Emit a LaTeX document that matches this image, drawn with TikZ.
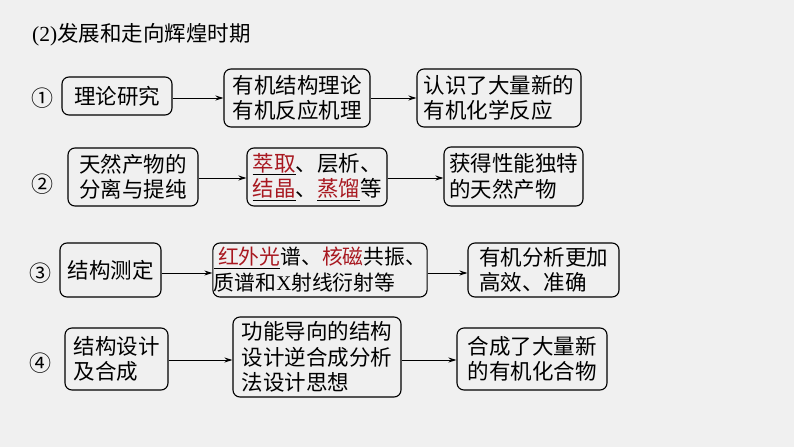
\documentclass[tikz,border=0pt]{standalone}
\usepackage{fontspec}
\setmainfont{Noto Sans CJK SC}
\newfontfamily\lat{Liberation Serif}
\usetikzlibrary{arrows.meta}
\definecolor{bg}{RGB}{240,240,240}
\definecolor{hl}{RGB}{168,24,32}
\newcommand{\ul}[1]{\underline{\textcolor{hl}{#1}}}
\tikzset{
  box/.style={draw=black, line width=1.1pt, rounded corners=7pt, align=left,
    inner sep=2pt, font=\fontsize{21.5}{25.5}\selectfont},
  arr/.style={line width=1pt, -{Stealth[length=8pt,width=5pt]}},
  num/.style={font=\fontsize{22}{24}\selectfont},
}
\begin{document}
\begin{tikzpicture}[x=1pt,y=-1pt]
\fill[bg] (0,0) rectangle (794,447);
\useasboundingbox (0,0) rectangle (794,447);

\node[anchor=west, inner sep=0pt, font=\fontsize{21.5}{24}\selectfont] (title) at (32,35) {{\lat(2)}发展和走向辉煌时期};

% row 1
\node[num] (n1) at (42,98) {①};
\node[box, minimum width=110pt, minimum height=38pt] (A1) at (117,96) {理论研究};
\node[box, minimum width=146pt, minimum height=58pt] (B1) at (297,98) {有机结构理论\\有机反应机理};
\node[box, minimum width=164pt, minimum height=58pt] (C1) at (499,98) {认识了大量新的\\有机化学反应};
\draw[arr] (A1.east |- 0,98) -- (B1.west |- 0,98);
\draw[arr] (B1.east |- 0,98) -- (C1.west |- 0,98);

% row 2
\node[num] (n2) at (42,184) {②};
\node[box, minimum width=130pt, minimum height=58pt] (A2) at (133,177) {天然产物的\\分离与提纯};
\node[box, minimum width=140pt, minimum height=58pt] (B2) at (317,177) {\ul{萃取}、层析、\\\ul{结晶}、\ul{蒸馏}等};
\node[box, minimum width=139pt, minimum height=59pt] (C2) at (513.5,176.5) {获得性能独特\\的天然产物};
\draw[arr] (A2.east |- 0,178) -- (B2.west |- 0,178);
\draw[arr] (B2.east |- 0,178) -- (C2.west |- 0,178);

% row 3
\node[num] (n3) at (40,273) {③};
\node[box, minimum width=101pt, minimum height=54pt] (A3) at (110.5,270) {结构测定};
\node[box, minimum width=214pt, minimum height=54pt, inner sep=1pt, font=\fontsize{20.8}{26}\selectfont] (B3) at (320,270) {\underline{\hspace{0.2em}\textcolor{hl}{红外光}}谱、\textcolor{hl}{核磁}共振、\\质谱和{\lat X}射线衍射等};
\node[box, minimum width=151pt, minimum height=54pt] (C3) at (543.5,270) {有机分析更加\\高效、准确};
\draw[arr] (A3.east |- 0,273) -- (B3.west |- 0,273);
\draw[arr] (B3.east |- 0,273) -- (C3.west |- 0,273);

% row 4
\node[num] (n4) at (40,363) {④};
\node[box, minimum width=103pt, minimum height=62pt] (A4) at (116.5,359) {结构设计\\及合成};
\node[box, minimum width=168pt, minimum height=80pt] (B4) at (317,357) {功能导向的结构\\设计逆合成分析\\法设计思想};
\node[box, minimum width=150pt, minimum height=62pt] (C4) at (532,359) {合成了大量新\\的有机化合物};
\draw[arr] (A4.east |- 0,360) -- (B4.west |- 0,360);
\draw[arr] (B4.east |- 0,360) -- (C4.west |- 0,360);
\end{tikzpicture}
\end{document}
